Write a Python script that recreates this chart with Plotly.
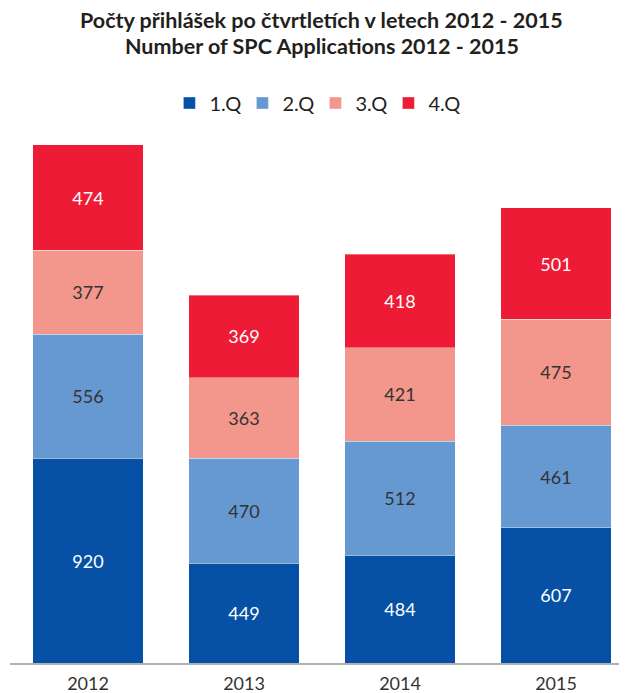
import plotly.graph_objects as go

years = ["2012", "2013", "2014", "2015"]
q1 = [920, 449, 484, 607]
q2 = [556, 470, 512, 461]
q3 = [377, 363, 421, 475]
q4 = [474, 369, 418, 501]

title_lines = ["Počty přihlášek po čtvrtletích v letech 2012 - 2015",
               "Number of SPC Applications 2012 - 2015"]

series = [
    ("1.Q", q1, "#0651a5", "white"),
    ("2.Q", q2, "#6699d1", "#333333"),
    ("3.Q", q3, "#f3968b", "#333333"),
    ("4.Q", q4, "#ed1b35", "white"),
]

fig = go.Figure()
for name, vals, color, tcolor in series:
    fig.add_trace(go.Bar(
        x=years, y=vals, name=name,
        marker=dict(color=color, line=dict(color="rgba(255,255,255,0.6)", width=0.6)),
        text=[str(v) for v in vals], textposition="inside", insidetextanchor="middle",
        textfont=dict(color=tcolor, size=18, family="Lato"),
        width=0.71,
    ))

# page is offset by the 8px body margin; positions below in page pixels
for line, ypx in zip(title_lines, [20, 46]):
    fig.add_annotation(
        text="<b>" + line + "</b>", xref="paper", yref="paper",
        x=0.505, y=(663 - ypx) / 523, xanchor="center", yanchor="middle",
        showarrow=False, font=dict(family="Lato", size=21.5, color="#231f20"),
    )

fig.update_layout(
    barmode="stack",
    width=619, height=685,
    margin=dict(l=2, r=0, t=132, b=30, autoexpand=False),
    plot_bgcolor="white", paper_bgcolor="white",
    legend=dict(
        orientation="h", x=0.495, xanchor="center", y=(663 - 103) / 523, yanchor="middle",
        font=dict(family="Lato", size=20, color="#231f20"),
        traceorder="normal", itemwidth=30, entrywidth=28,
    ),
    xaxis=dict(
        type="category", range=[-0.5, 3.455],
        showline=True, linecolor="#b0b0b0", linewidth=1.5,
        ticks="", showgrid=False, ticklabelstandoff=4,
        tickfont=dict(family="Lato", size=18, color="#333333"),
    ),
    yaxis=dict(range=[0, 2349], visible=False, showgrid=False),
)

fig.write_html("out.html")
